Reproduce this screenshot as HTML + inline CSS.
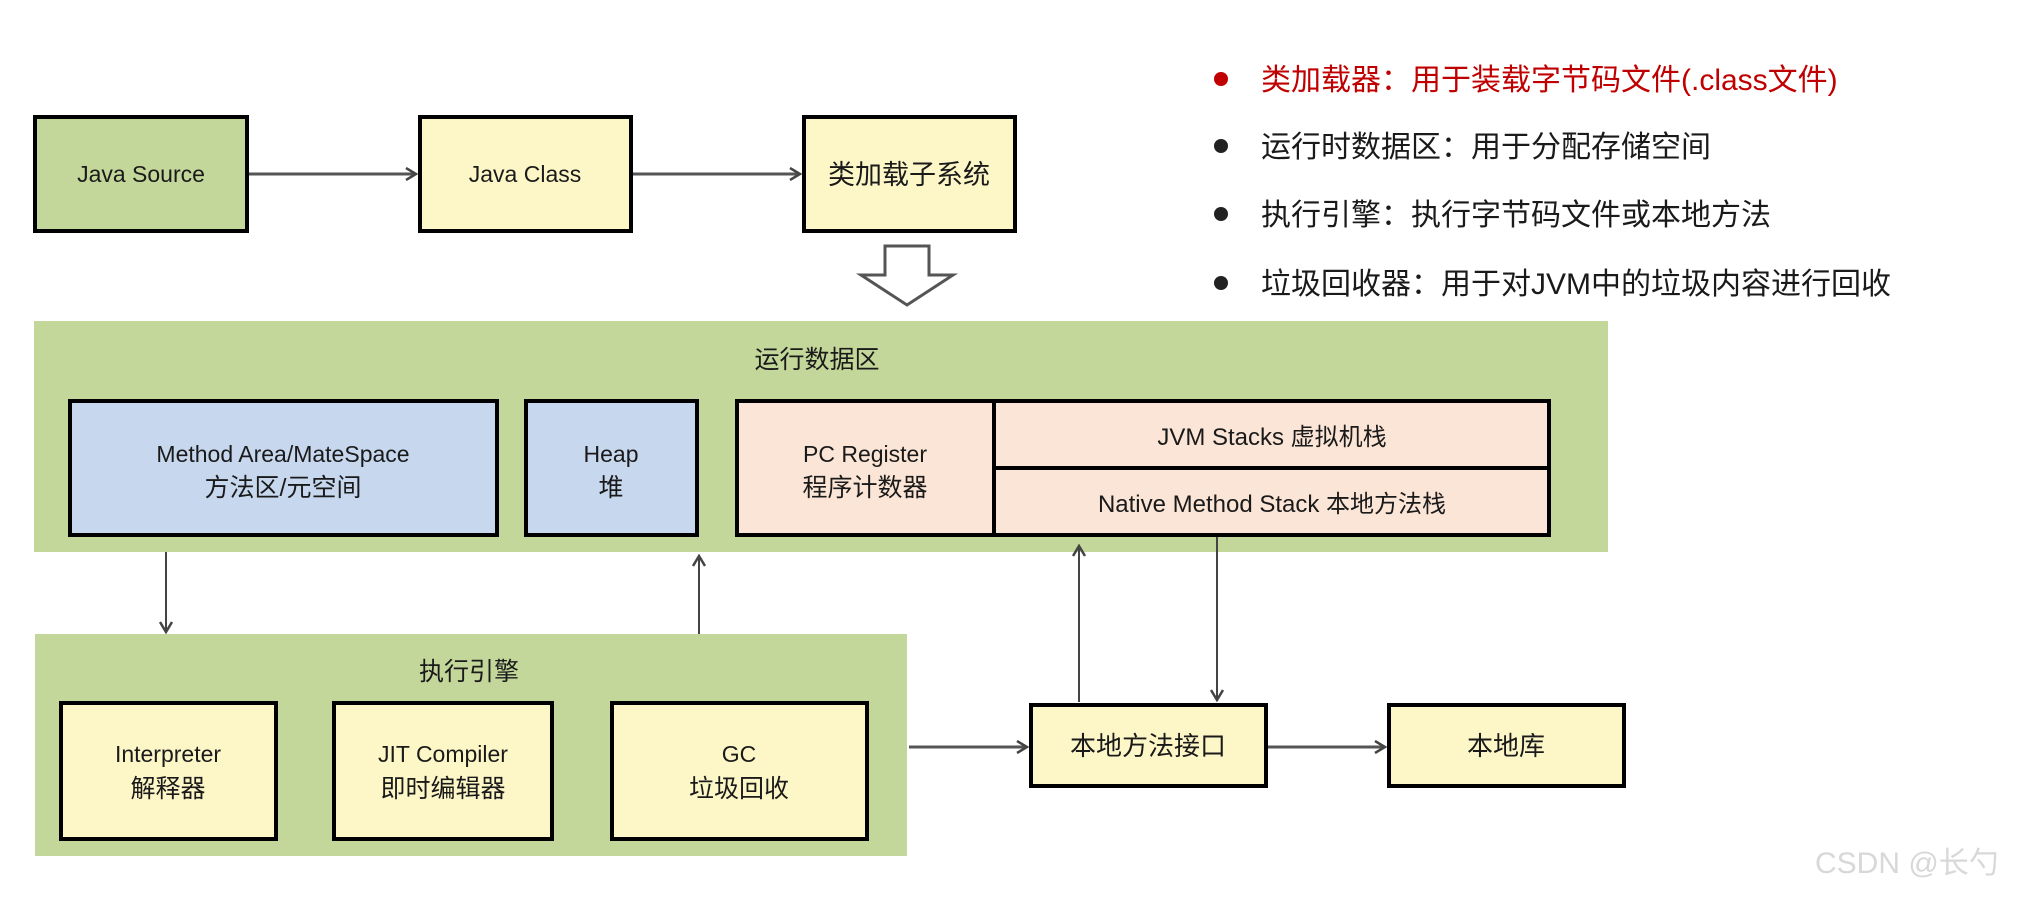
<!DOCTYPE html>
<html><head><meta charset="utf-8"><style>
html,body{margin:0;padding:0;background:#fff;}
svg text{font-family:"Liberation Sans","Noto Sans CJK SC",sans-serif;fill:#1a1a1a;}
</style></head><body>
<svg width="2043" height="898" viewBox="0 0 2043 898" xmlns="http://www.w3.org/2000/svg">
<defs>
<marker id="a" markerWidth="14" markerHeight="14" refX="12" refY="7" orient="auto" markerUnits="userSpaceOnUse">
<path d="M2,1 L12,7 L2,13" fill="none" stroke="#444" stroke-width="2.5"/>
</marker>
</defs>
<!-- top row -->
<rect x="35" y="117" width="212" height="114" fill="#c4d79b" stroke="#000" stroke-width="4"/>
<text x="141" y="182" font-size="23" text-anchor="middle">Java Source</text>
<rect x="420" y="117" width="211" height="114" fill="#fdf7c8" stroke="#000" stroke-width="4"/>
<text x="525" y="182" font-size="23" text-anchor="middle">Java Class</text>
<rect x="804" y="117" width="211" height="114" fill="#fdf7c8" stroke="#000" stroke-width="4"/>
<text x="909" y="184" font-size="27" text-anchor="middle">类加载子系统</text>
<line x1="249" y1="174" x2="416" y2="174" stroke="#555" stroke-width="3" marker-end="url(#a)"/>
<line x1="633" y1="174" x2="800" y2="174" stroke="#555" stroke-width="3" marker-end="url(#a)"/>
<!-- hollow arrow -->
<path d="M885,246 L929,246 L929,275 L953,275 L907,305 L861,275 L885,275 Z" fill="#fff" stroke="#555" stroke-width="3"/>
<!-- bullets -->
<circle cx="1221" cy="79" r="7" fill="#c00000"/>
<text x="1261" y="90" font-size="30" style="fill:#c00000">类加载器：用于装载字节码文件(.class文件)</text>
<circle cx="1221" cy="146" r="7" fill="#222"/>
<text x="1261" y="157" font-size="30">运行时数据区：用于分配存储空间</text>
<circle cx="1221" cy="214" r="7" fill="#222"/>
<text x="1261" y="225" font-size="30">执行引擎：执行字节码文件或本地方法</text>
<circle cx="1221" cy="283" r="7" fill="#222"/>
<text x="1261" y="294" font-size="30">垃圾回收器：用于对JVM中的垃圾内容进行回收</text>
<!-- runtime area -->
<rect x="34" y="321" width="1574" height="231" fill="#c4d79b"/>
<text x="817" y="368" font-size="25" text-anchor="middle">运行数据区</text>
<rect x="70" y="401" width="427" height="134" fill="#c6d7ee" stroke="#000" stroke-width="4"/>
<text x="283" y="462" font-size="23" text-anchor="middle">Method Area/MateSpace</text>
<text x="283" y="496" font-size="25" text-anchor="middle">方法区/元空间</text>
<rect x="526" y="401" width="171" height="134" fill="#c6d7ee" stroke="#000" stroke-width="4"/>
<text x="611" y="462" font-size="23" text-anchor="middle">Heap</text>
<text x="611" y="496" font-size="25" text-anchor="middle">堆</text>
<rect x="737" y="401" width="812" height="134" fill="#fbe5d6" stroke="#000" stroke-width="4"/>
<line x1="994" y1="401" x2="994" y2="535" stroke="#000" stroke-width="4"/>
<line x1="994" y1="468" x2="1549" y2="468" stroke="#000" stroke-width="4"/>
<text x="865" y="462" font-size="23" text-anchor="middle">PC Register</text>
<text x="865" y="496" font-size="25" text-anchor="middle">程序计数器</text>
<text x="1272" y="445" font-size="24" text-anchor="middle">JVM Stacks 虚拟机栈</text>
<text x="1272" y="512" font-size="24" text-anchor="middle">Native Method Stack 本地方法栈</text>
<!-- vertical connectors -->
<line x1="166" y1="552" x2="166" y2="632" stroke="#444" stroke-width="2" marker-end="url(#a)"/>
<line x1="699" y1="634" x2="699" y2="556" stroke="#444" stroke-width="2" marker-end="url(#a)"/>
<line x1="1079" y1="702" x2="1079" y2="546" stroke="#444" stroke-width="2" marker-end="url(#a)"/>
<line x1="1217" y1="537" x2="1217" y2="700" stroke="#444" stroke-width="2" marker-end="url(#a)"/>
<!-- exec engine -->
<rect x="35" y="634" width="872" height="222" fill="#c4d79b"/>
<text x="469" y="680" font-size="25" text-anchor="middle">执行引擎</text>
<rect x="61" y="703" width="215" height="136" fill="#fdf7c8" stroke="#000" stroke-width="4"/>
<text x="168" y="762" font-size="23" text-anchor="middle">Interpreter</text>
<text x="168" y="797" font-size="25" text-anchor="middle">解释器</text>
<rect x="334" y="703" width="218" height="136" fill="#fdf7c8" stroke="#000" stroke-width="4"/>
<text x="443" y="762" font-size="23" text-anchor="middle">JIT Compiler</text>
<text x="443" y="797" font-size="25" text-anchor="middle">即时编辑器</text>
<rect x="612" y="703" width="255" height="136" fill="#fdf7c8" stroke="#000" stroke-width="4"/>
<text x="739" y="762" font-size="23" text-anchor="middle">GC</text>
<text x="739" y="797" font-size="25" text-anchor="middle">垃圾回收</text>
<!-- native -->
<rect x="1031" y="705" width="235" height="81" fill="#fdf7c8" stroke="#000" stroke-width="4"/>
<text x="1148" y="755" font-size="26" text-anchor="middle">本地方法接口</text>
<rect x="1389" y="705" width="235" height="81" fill="#fdf7c8" stroke="#000" stroke-width="4"/>
<text x="1506" y="755" font-size="26" text-anchor="middle">本地库</text>
<line x1="909" y1="747" x2="1027" y2="747" stroke="#555" stroke-width="3" marker-end="url(#a)"/>
<line x1="1268" y1="747" x2="1385" y2="747" stroke="#555" stroke-width="3" marker-end="url(#a)"/>
<text x="1815" y="873" font-size="30" style="fill:#d8d8d8">CSDN @长勺</text>
</svg>
</body></html>
